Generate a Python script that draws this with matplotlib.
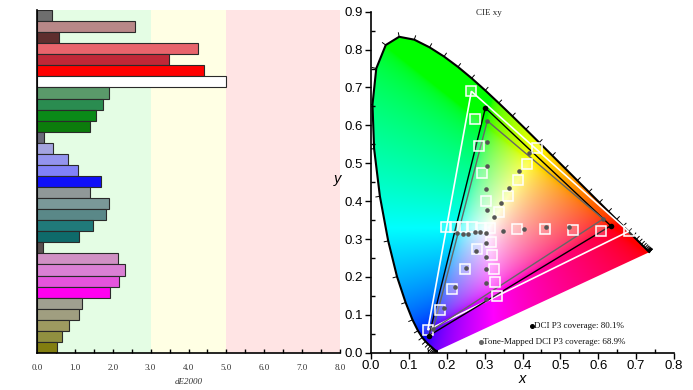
import numpy as np
import matplotlib
matplotlib.use('Agg')
import matplotlib.pyplot as plt
from matplotlib.patches import Polygon
from matplotlib.collections import LineCollection
from matplotlib.ticker import MultipleLocator, FormatStrFormatter

# ---------------- Left chart: dE2000 bars ----------------
bar_values = [0.39, 2.59, 0.57, 4.25, 3.48, 4.42, 4.98,
              1.90, 1.74, 1.57, 1.40,
              0.18, 0.43, 0.81, 1.09, 1.68,
              1.40, 1.91, 1.82, 1.48, 1.10,
              0.15, 2.14, 2.33, 2.17, 1.92,
              1.19, 1.10, 0.85, 0.67, 0.53]
bar_colors = ['#6e6e6e', '#b88888', '#5e2e2e', '#e8646c', '#c02838', '#ff0000', '#ffffff',
              '#5a9a6a', '#2a8c50', '#0a8a18', '#0c7c0c',
              '#6a6a7a', '#a4a4e0', '#9494ee', '#8282f8', '#1010f8',
              '#909898', '#7a9898', '#5a8888', '#207a7a', '#0e6a6a',
              '#5a5050', '#d090c4', '#da80d4', '#e454dc', '#ff00f0',
              '#a0a090', '#a09e80', '#9e9a60', '#909040', '#827e10']
band_edges = [0, 3, 5, 8]
band_colors = ['#e4fde4', '#ffffe4', '#ffe4e4']
de_ticks = [0, 1, 2, 3, 4, 5, 6, 7, 8]

# ---------------- Right chart: CIE 1931 xy ----------------
wavelengths = list(range(380, 701, 5))
locus_x = [0.1741, 0.1740, 0.1738, 0.1736, 0.1733, 0.1730, 0.1726, 0.1721, 0.1714, 0.1703,
           0.1689, 0.1669, 0.1644, 0.1611, 0.1566, 0.1510, 0.1440, 0.1355, 0.1241, 0.1096,
           0.0913, 0.0687, 0.0454, 0.0235, 0.0082, 0.0039, 0.0139, 0.0389, 0.0743, 0.1142,
           0.1547, 0.1929, 0.2296, 0.2658, 0.3016, 0.3373, 0.3731, 0.4087, 0.4441, 0.4788,
           0.5125, 0.5448, 0.5752, 0.6029, 0.6270, 0.6482, 0.6658, 0.6801, 0.6915, 0.7006,
           0.7079, 0.7140, 0.7190, 0.7230, 0.7260, 0.7283, 0.7300, 0.7311, 0.7320, 0.7327,
           0.7334, 0.7340, 0.7344, 0.7346, 0.7347]
locus_y = [0.0050, 0.0050, 0.0049, 0.0049, 0.0048, 0.0048, 0.0048, 0.0048, 0.0051, 0.0058,
           0.0069, 0.0086, 0.0109, 0.0138, 0.0177, 0.0227, 0.0297, 0.0399, 0.0578, 0.0868,
           0.1327, 0.2007, 0.2950, 0.4127, 0.5384, 0.6548, 0.7502, 0.8120, 0.8338, 0.8262,
           0.8059, 0.7816, 0.7543, 0.7243, 0.6923, 0.6589, 0.6245, 0.5896, 0.5547, 0.5202,
           0.4866, 0.4544, 0.4242, 0.3965, 0.3725, 0.3514, 0.3340, 0.3197, 0.3083, 0.2993,
           0.2920, 0.2859, 0.2809, 0.2770, 0.2740, 0.2717, 0.2700, 0.2689, 0.2680, 0.2673,
           0.2666, 0.2660, 0.2656, 0.2654, 0.2653]

target_tri_x = [0.680, 0.265, 0.150]
target_tri_y = [0.320, 0.690, 0.060]
measured_tri_x = [0.633, 0.302, 0.153]
measured_tri_y = [0.335, 0.646, 0.045]
tonemap_tri_x = [0.613, 0.307, 0.164]
tonemap_tri_y = [0.353, 0.612, 0.062]

target_pts_x = [0.313,
                0.386, 0.460, 0.533, 0.607, 0.680,
                0.303, 0.294, 0.284, 0.275, 0.265,
                0.280, 0.248, 0.215, 0.183, 0.150,
                0.290, 0.267, 0.244, 0.221, 0.198,
                0.317, 0.320, 0.324, 0.328, 0.332,
                0.338, 0.362, 0.387, 0.412, 0.437]
target_pts_y = [0.329,
                0.327, 0.326, 0.324, 0.322, 0.320,
                0.401, 0.473, 0.545, 0.618, 0.690,
                0.275, 0.221, 0.168, 0.114, 0.060,
                0.330, 0.331, 0.332, 0.332, 0.333,
                0.293, 0.257, 0.221, 0.186, 0.150,
                0.371, 0.413, 0.455, 0.497, 0.539]
meas_pts_x = [0.303,
              0.349, 0.404, 0.461, 0.522, 0.613,
              0.305, 0.303, 0.305, 0.307, 0.307,
              0.277, 0.251, 0.222, 0.193, 0.164,
              0.289, 0.274, 0.257, 0.244, 0.228,
              0.303, 0.303, 0.303, 0.303, 0.303,
              0.325, 0.342, 0.365, 0.390, 0.416]
meas_pts_y = [0.317,
              0.322, 0.327, 0.331, 0.332, 0.353,
              0.377, 0.433, 0.493, 0.556, 0.612,
              0.269, 0.223, 0.173, 0.118, 0.062,
              0.318, 0.318, 0.313, 0.313, 0.315,
              0.289, 0.253, 0.220, 0.184, 0.143,
              0.357, 0.395, 0.435, 0.480, 0.526]

legend_lines = ['DCI P3 coverage: 80.1%', 'Tone-Mapped DCI P3 coverage: 68.9%']
legend_dot_colors = ['#000000', '#666666']

SERIF = ['Liberation Serif', 'DejaVu Serif']
SANS = ['Liberation Sans', 'DejaVu Sans']

fig = plt.figure(figsize=(6.93, 3.90), dpi=100)

# ---------------- left axes ----------------
axL = fig.add_axes([37 / 693, (390 - 353) / 390, 303 / 693, 343 / 390])
for i in range(3):
    axL.axvspan(band_edges[i], band_edges[i + 1], color=band_colors[i], lw=0, zorder=0)
ypos = np.arange(len(bar_values))
axL.barh(ypos, bar_values, height=1.0, color=bar_colors, edgecolor='#2a2a2a', linewidth=0.8, zorder=2)
axL.set_ylim(len(bar_values) - 0.5, -0.5)
axL.set_xlim(0, 8)
axL.set_yticks([])
axL.spines['top'].set_visible(False)
axL.spines['right'].set_visible(False)
axL.spines['left'].set_linewidth(1.2)
axL.spines['bottom'].set_linewidth(1.2)
axL.set_xticks(de_ticks)
axL.xaxis.set_minor_locator(MultipleLocator(0.5))
axL.xaxis.set_major_formatter(FormatStrFormatter('%.1f'))
axL.tick_params(axis='x', which='both', direction='in', length=3, width=1, pad=8,
                labelsize=6.5, labelcolor='#333333')
for lab in axL.get_xticklabels():
    lab.set_family(SERIF)
axL.set_xlabel('dE2000', fontsize=6.5, style='italic', family=SERIF, color='#333333', labelpad=4)

# ---------------- right axes ----------------
axR = fig.add_axes([371 / 693, (390 - 352.7) / 390, 303 / 693, 341 / 390])
axR.set_xlim(0, 0.8)
axR.set_ylim(0, 0.9)

# chromaticity colour fill
gx = np.linspace(0, 0.8, 560)
gy = np.linspace(0.001, 0.9, 630)
XX, YY = np.meshgrid(gx, gy)
Xc = XX / YY
Yc = np.ones_like(XX)
Zc = (1 - XX - YY) / YY
R = 3.2406 * Xc - 1.5372 * Yc - 0.4986 * Zc
G = -0.9689 * Xc + 1.8758 * Yc + 0.0415 * Zc
B = 0.0557 * Xc - 0.2040 * Yc + 1.0570 * Zc
rgb = np.stack([R, G, B], axis=-1)
rgb = np.clip(rgb, 0, None)
rgb = rgb / np.maximum(rgb.max(axis=-1, keepdims=True), 1e-9)
rgb = np.where(rgb <= 0.0031308, 12.92 * rgb, 1.055 * np.power(rgb, 1 / 2.4) - 0.055)
rgb = np.clip(rgb, 0, 1)

locus_pts = np.column_stack([locus_x, locus_y])
poly = Polygon(locus_pts, closed=True, facecolor='none', edgecolor='none', transform=axR.transData)
axR.add_patch(poly)
im = axR.imshow(rgb, extent=(0, 0.8, 0.001, 0.9), origin='lower', aspect='auto',
                interpolation='bilinear', zorder=1)
im.set_clip_path(poly)
axR.plot(locus_x, locus_y, color='black', lw=1.5, zorder=3, solid_capstyle='round')

# wavelength ticks on the locus
segs = []
cx, cy = 0.33, 0.33
n = len(locus_x)
for i in range(n):
    i0 = max(i - 1, 0)
    i1 = min(i + 1, n - 1)
    tx = locus_x[i1] - locus_x[i0]
    ty = locus_y[i1] - locus_y[i0]
    nx, ny = -ty, tx
    norm = np.hypot(nx, ny)
    nx, ny = nx / norm, ny / norm
    if nx * (locus_x[i] - cx) + ny * (locus_y[i] - cy) < 0:
        nx, ny = -nx, -ny
    L = 0.012
    segs.append([(locus_x[i], locus_y[i]), (locus_x[i] + nx * L, locus_y[i] + ny * L)])
axR.add_collection(LineCollection(segs, colors='black', linewidths=0.7, zorder=3))

# gamut triangles
axR.fill(target_tri_x, target_tri_y, facecolor='none', edgecolor='white', lw=1.2, zorder=4)
axR.fill(measured_tri_x, measured_tri_y, facecolor='none', edgecolor='black', lw=1.0, zorder=5)
axR.fill(tonemap_tri_x, tonemap_tri_y, facecolor='none', edgecolor='#666666', lw=1.0, zorder=5)

axR.plot(target_pts_x, target_pts_y, linestyle='none', marker='s', markersize=6.5,
         markerfacecolor=(1, 1, 1, 0.2), markeredgecolor='white', markeredgewidth=1.1, zorder=6)
axR.plot(meas_pts_x, meas_pts_y, linestyle='none', marker='o', markersize=3.3,
         markerfacecolor='#555555', markeredgecolor='none', zorder=7)
axR.plot(measured_tri_x, measured_tri_y, linestyle='none', marker='o', markersize=4,
         markerfacecolor='black', markeredgecolor='none', zorder=8)

# legend
leg_x_dot = [0.424, 0.290]
leg_y = [0.071, 0.029]
for i in range(2):
    axR.plot([leg_x_dot[i]], [leg_y[i]], marker='o', markersize=2.6, color=legend_dot_colors[i],
             linestyle='none', zorder=9)
    axR.text(leg_x_dot[i] + 0.007, leg_y[i], legend_lines[i], fontsize=6.5, family=SERIF,
             ha='left', va='center', color='#111111', zorder=9)

axR.spines['top'].set_visible(False)
axR.spines['right'].set_visible(False)
axR.spines['left'].set_linewidth(1.2)
axR.spines['bottom'].set_linewidth(1.2)
axR.xaxis.set_major_locator(MultipleLocator(0.1))
axR.yaxis.set_major_locator(MultipleLocator(0.1))
axR.xaxis.set_minor_locator(MultipleLocator(0.05))
axR.yaxis.set_minor_locator(MultipleLocator(0.05))
axR.xaxis.set_major_formatter(FormatStrFormatter('%.1f'))
axR.yaxis.set_major_formatter(FormatStrFormatter('%.1f'))
axR.tick_params(which='major', direction='out', length=4, width=1, labelsize=9.5, pad=1.5)
axR.tick_params(which='minor', direction='in', length=3, width=1)
for lab in axR.get_xticklabels() + axR.get_yticklabels():
    lab.set_family(SANS)
axR.set_xlabel('x', fontsize=10.5, style='italic', family=SANS, labelpad=0)
axR.set_ylabel('y', fontsize=10.5, style='italic', family=SANS, rotation=0, labelpad=8)
axR.yaxis.set_label_coords(-0.11, 0.49)

fig.text(489 / 693, 1 - 13 / 390, 'CIE xy', fontsize=6.5, family=SERIF, ha='center', va='center',
         color='#222222')

fig.savefig('out.png', dpi=100)
